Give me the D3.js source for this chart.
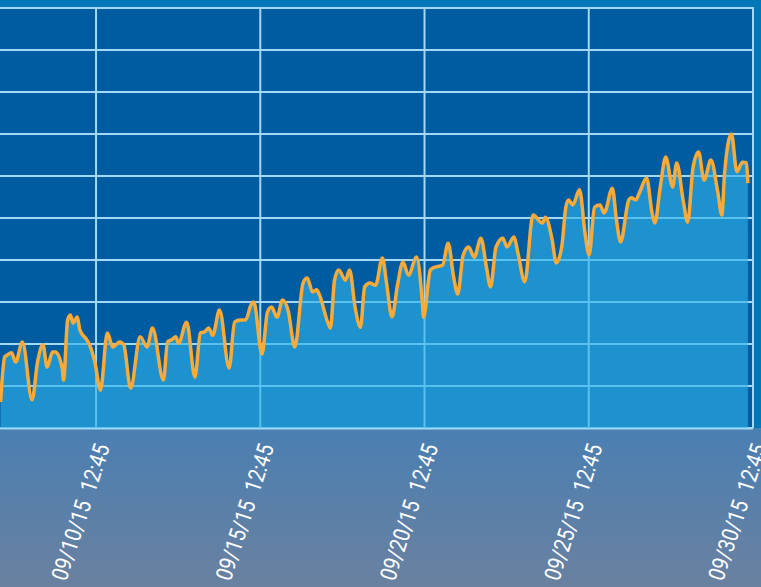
<!DOCTYPE html>
<html>
<head>
<meta charset="utf-8">
<script src="https://cdn.jsdelivr.net/npm/d3@7"></script>
<style>
  body { margin: 0; background: #0077b7; }
  svg { display: block; }
</style>
</head>
<body>
<script>
const w = 761;
const h = 587;
const margin = { top: 8, right: 8, bottom: 159, left: 0 };

// hours since 2015-09-07 00:00
const hours = [15, 18, 20, 23, 26, 31, 38, 42, 46, 49, 53, 55, 60, 61, 64, 66, 68, 71, 73, 78, 80, 84, 88,
  93, 97, 102, 105, 110, 117, 122, 126, 134, 137, 140, 143, 145, 151, 157, 161, 164, 167, 170, 175, 182,
  186, 190, 194, 198, 200, 206, 210, 213, 217, 221, 225, 230, 236, 239, 243, 246, 248, 254, 256, 259,
  262, 267, 270, 274, 278, 281, 285, 289, 294, 297, 301, 305, 309, 313, 319, 323, 324, 329, 331, 338,
  342, 346, 349, 353, 357, 361, 366, 370, 373, 377, 382, 385, 390, 393, 398, 404, 411, 413, 418, 421,
  425, 428, 430, 433, 438, 442, 445, 449, 453, 456, 462, 465, 468, 474, 476, 479, 482, 487, 491, 493,
  497, 501, 506, 509, 514, 517, 521, 525, 529, 534, 539, 542, 544, 549, 553, 557, 560, 561];

const values = [6.2, 16.9, 17.4, 17.9, 15.7, 20.5, 6.7, 15.7, 19.8, 14.5, 18.1, 18.1, 14.3, 11.4, 25.7,
  26.9, 25.0, 26.4, 23.3, 21.0, 19.8, 15.5, 9.0, 22.6, 19.3, 20.5, 19.8, 9.5, 21.7, 19.3, 23.8, 11.4,
  20.5, 21.0, 21.7, 20.2, 25.2, 12.1, 22.6, 22.9, 23.8, 22.1, 28.1, 14.3, 25.2, 25.7, 25.7, 29.3, 30.0,
  17.6, 27.6, 28.8, 26.4, 30.5, 28.1, 19.3, 34.5, 35.7, 32.4, 32.9, 31.7, 25.2, 23.8, 35.2, 37.6, 35.2,
  37.6, 28.8, 24.0, 33.6, 34.5, 34.0, 40.5, 34.5, 26.4, 34.0, 39.5, 36.4, 40.7, 30.5, 26.4, 37.6, 38.1,
  38.8, 44.0, 36.0, 31.9, 41.2, 43.1, 40.7, 45.2, 38.3, 33.6, 43.1, 45.2, 43.1, 45.5, 41.7, 34.8, 50.7,
  48.8, 50.2, 44.8, 39.3, 43.1, 52.6, 54.3, 53.1, 56.7, 46.4, 41.2, 52.6, 53.1, 51.2, 57.1, 49.5, 44.3,
  54.3, 54.8, 54.3, 56.2, 59.5, 51.2, 48.8, 57.4, 64.5, 57.4, 63.1, 53.6, 49.0, 62.1, 65.7, 59.0, 63.8,
  56.2, 50.7, 60.7, 70.0, 61.0, 63.3, 63.1, 58.3];

const tickLabels = ["2015-09-10 12:45", "2015-09-15 12:45", "2015-09-20 12:45", "2015-09-25 12:45", "2015-09-30 12:45"];

const base = new Date(2015, 8, 7, 0, 0);
const data = hours.map((hr, i) => ({ date: d3.timeMinute.offset(base, Math.round(hr * 60)), value: values[i] }));

const parseTick = d3.timeParse("%Y-%m-%d %H:%M");
const tickDates = tickLabels.map(parseTick);
const fmt = d3.timeFormat("%m/%d/%y  %H:%M");

const svg = d3.select("body")
  .append("svg")
  .attr("width", w)
  .attr("height", h);

const defs = svg.append("defs");
const grad = defs.append("linearGradient")
  .attr("id", "bottomGrad")
  .attr("x1", 0).attr("y1", 0).attr("x2", 0).attr("y2", 1);
grad.append("stop").attr("offset", "0%").attr("stop-color", "#4a7fb2");
grad.append("stop").attr("offset", "100%").attr("stop-color", "#6a81a0");

const plotW = w - margin.left - margin.right;
const plotH = h - margin.top - margin.bottom;

// outer background
svg.append("rect").attr("width", w).attr("height", h).attr("fill", "#0077b7");
svg.append("rect")
  .attr("x", 0).attr("y", margin.top + plotH)
  .attr("width", w).attr("height", h - margin.top - plotH)
  .attr("fill", "url(#bottomGrad)");

const x = d3.scaleTime()
  .domain([new Date(2015, 8, 7, 14, 35), tickDates[tickDates.length - 1]])
  .range([margin.left, margin.left + plotW]);

const y = d3.scaleLinear()
  .domain([0, 100])
  .range([margin.top + plotH, margin.top]);

// plot background
svg.append("rect")
  .attr("x", margin.left).attr("y", margin.top)
  .attr("width", plotW).attr("height", plotH)
  .attr("fill", "#005ca1");

// grid
const grid = svg.append("g").attr("stroke", "#a3d9f5").attr("stroke-width", 2);
grid.selectAll("line.h")
  .data(y.ticks(10))
  .enter()
  .append("line")
  .attr("class", "h")
  .attr("x1", margin.left).attr("x2", margin.left + plotW)
  .attr("y1", d => y(d)).attr("y2", d => y(d));
grid.selectAll("line.v")
  .data(tickDates)
  .enter()
  .append("line")
  .attr("class", "v")
  .attr("x1", d => x(d)).attr("x2", d => x(d))
  .attr("y1", margin.top - 1).attr("y2", margin.top + plotH);

// area + line
const area = d3.area()
  .x(d => x(d.date))
  .y0(y(0))
  .y1(d => y(d.value))
  .curve(d3.curveMonotoneX);

const line = d3.line()
  .x(d => x(d.date))
  .y(d => y(d.value))
  .curve(d3.curveMonotoneX);

svg.append("path")
  .datum(data)
  .attr("d", area)
  .attr("fill", "rgb(48,178,233)")
  .attr("fill-opacity", 0.63);

svg.append("path")
  .datum(data)
  .attr("d", line)
  .attr("fill", "none")
  .attr("stroke", "#f9aa38")
  .attr("stroke-width", 3.5)
  .attr("stroke-linejoin", "round");

// x axis line
svg.append("line")
  .attr("x1", 0).attr("x2", margin.left + plotW)
  .attr("y1", y(0) + 1).attr("y2", y(0) + 1)
  .attr("stroke", "#a3d9f5").attr("stroke-width", 1);

// tick labels
svg.append("g")
  .selectAll("text")
  .data(tickDates)
  .enter()
  .append("text")
  .attr("transform", d => "translate(" + (x(d) + 14) + "," + (margin.top + plotH + 19) + ") rotate(-72) scale(0.86,1)")
  .attr("text-anchor", "end")
  .style("white-space", "pre")
  .attr("font-family", "Roboto, sans-serif")
  .attr("font-size", 23)
  .attr("fill", "#ffffff")
  .text(d => fmt(d));
</script>
</body>
</html>
